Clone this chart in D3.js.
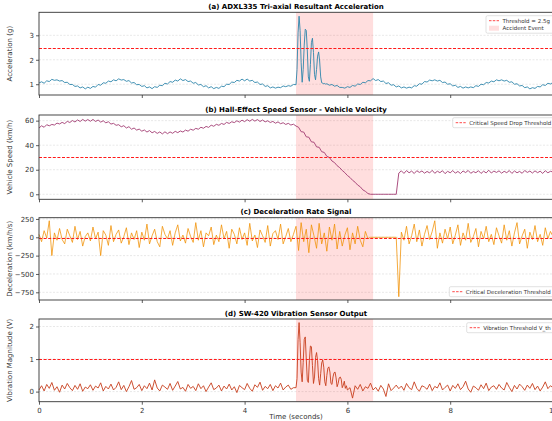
<!DOCTYPE html>
<html>
<head>
<meta charset="utf-8">
<script src="https://cdn.jsdelivr.net/npm/d3@7"></script>
<style>
  body { margin: 0; background: #fff; }
  svg { display: block; font-family: "DejaVu Sans", sans-serif; }
</style>
</head>
<body>
<div id="chart"></div>
<script>
// sample grid: 0 .. 10 s, every 0.05 s (null = see burst arrays)
var accel = [
  1.05, 1.10, 1.04, 1.14, 1.11, 1.20, 1.16, 1.18, 1.13, 1.15, 1.07, 1.08, 0.99, 0.99, 0.91, 0.93, 0.85, 0.89, 0.81, 0.88,
  0.83, 0.91, 0.88, 0.99, 0.96, 1.06, 1.04, 1.13, 1.10, 1.18, 1.14, 1.22, 1.17, 1.19, 1.12, 1.15, 1.05, 1.07, 0.98, 0.99,
  0.91, 0.94, 0.85, 0.89, 0.82, 0.90, 0.87, 0.96, 0.94, 1.04, 1.01, 1.11, 1.08, 1.17, 1.13, 1.22, 1.15, 1.19, 1.11, 1.13,
  1.04, 1.07, 0.97, 0.99, 0.90, 0.94, 0.85, 0.90, 0.82, 0.87, 0.83, 0.92, 0.90, 1.00, 0.99, 1.09, 1.07, 1.16, 1.13, 1.21,
  1.14, 1.21, 1.13, 1.16, 1.07, 1.09, 0.99, 1.01, 0.91, 0.94, 0.85, 0.89, 0.84, 0.88, 0.86, 0.93, 0.90, 0.94, 0.92, 0.99,
  null, null, null, null, null, null, null, null, null, null, null, null, null, 0.96, 0.99, 0.92, 0.95, 0.87, 0.87, 0.84,
  0.90, 0.87, 0.95, 0.92, 1.01, 0.99, 1.08, 1.06, 1.15, 1.14, 1.23, 1.15, 1.19, 1.11, 1.13, 1.03, 1.06, 0.96, 0.98, 0.89,
  0.93, 0.85, 0.89, 0.84, 0.88, 0.85, 0.94, 0.92, 1.02, 1.00, 1.11, 1.09, 1.17, 1.14, 1.18, 1.13, 1.16, 1.07, 1.09, 1.00,
  1.02, 0.93, 0.96, 0.87, 0.91, 0.84, 0.89, 0.85, 0.89, 0.86, 0.94, 0.91, 1.00, 0.98, 1.07, 1.05, 1.13, 1.10, 1.18, 1.14,
  1.18, 1.13, 1.16, 1.08, 1.10, 1.00, 1.02, 0.93, 0.95, 0.86, 0.89, 0.81, 0.86, 0.83, 0.91, 0.89, 0.98, 0.95, 1.04, 1.01, 1.07
]

// impact burst, 5.00 .. 5.60 s every 0.02 s
var accelBurst = [
  0.98, 1.60, 3.10, 3.78, 3.20, 1.90, 1.08, 1.60, 2.60, 3.25,
  3.20, 2.40, 1.30, 1.12, 1.80, 2.70, 2.88, 2.30, 1.40, 1.18,
  1.60, 2.15, 2.32, 1.95, 1.30, 1.06, 1.04, 1.02, 1.03, 1.00, 1.02
]

var speed = [
  54.0, 55.8, 54.6, 56.7, 55.8, 56.9, 56.4, 58.0, 57.3, 58.6, 57.6, 59.4, 58.5, 60.1, 58.9, 60.6, 59.3, 61.0, 59.6, 60.9,
  59.5, 61.0, 59.3, 60.5, 58.8, 59.9, 58.2, 59.1, 57.2, 57.8, 56.2, 56.7, 55.0, 55.9, 54.0, 55.1, 53.0, 54.0, 52.3, 53.1,
  51.4, 52.4, 50.7, 51.9, 50.1, 51.2, 49.6, 50.8, 49.2, 50.9, 49.4, 50.8, 49.7, 51.3, 50.2, 51.6, 50.7, 52.3, 51.4, 53.0,
  52.2, 53.7, 53.0, 54.6, 53.8, 55.3, 54.5, 56.3, 55.4, 57.0, 56.2, 57.7, 56.9, 58.6, 57.7, 59.1, 58.4, 59.9, 58.8, 60.4,
  59.2, 60.8, 59.5, 61.0, 59.6, 60.9, 59.3, 60.5, 59.0, 59.9, 58.5, 59.4, 57.9, 59.0, 57.5, 58.3, 56.9, 57.8, 56.4, 57.1,
  55.6, 54.6, 51.0, 50.7, 46.8, 46.5, 42.7, 42.4, 38.6, 38.3, 34.7, 34.1, 30.9, 30.0, 27.1, 25.8, 23.3, 21.7, 19.4, 17.6,
  15.3, 13.7, 11.4, 9.8, 7.5, 6.1, 3.6, 2.4, 0.6, 0, 0, 0, 0, 0, 0, 0, 0, 0, 0, 0,
  17.3, 19.1, 17.0, 19.3, 17.5, 18.9, 16.9, 19.2, 17.8, 19.0, 17.2, 18.6, 17.4, 19.5, 17.1, 18.8, 17.6, 19.2, 16.8, 18.7,
  17.5, 19.3, 17.2, 18.6, 16.9, 19.0, 17.7, 19.4, 17.1, 18.5, 17.6, 19.2, 17.0, 18.8, 17.4, 19.6, 17.3, 18.9, 17.8, 19.1,
  17.2, 18.7, 17.6, 19.3, 17.0, 19.0, 17.5, 18.6, 17.1, 19.4, 17.8, 18.9, 17.3, 19.1, 17.6, 18.8, 17.0, 19.2, 17.5, 18.7, 18.2
]

var decel = [
  40, -60, 90, -10, 225, -250, 60, -40, 120, -30, -90, 110, 20, -70, 150, -30, 80, -120, 10, 60,
  -50, 140, -20, 70, -250, 90, 30, -110, 160, -60, 40, 100, -80, 10, 130, -100, 60, -30, 90, -140,
  70, -40, 180, -90, 20, 110, -60, -130, 150, 40, -20, 90, -110, 60, 170, -50, 30, -80, 120, 10,
  -70, 200, -40, 90, -130, 60, 20, 140, -100, 30, -60, 170, -20, 80, -150, 110, 40, -90, 130, -30,
  60, -110, 190, -50, 30, -140, 100, 20, -70, 160, -120, 50, 90, -30, 180, -90, 10, 120, -60, 40,
  150, -180, 200, -60, 110, -210, 170, 20, -150, 190, -90, 60, -190, 140, -40, 180, -160, 80, -120, 30,
  130, -170, 60, -90, 150, -40, -130, 80, -20, 0, 0, 0, 0, 0, 0, 0, 0, 0, 0, 0,
  -810, 70, -40, 150, -90, 20, 180, -60, 100, -120, 40, 160, -30, 80, 225, -150, 60, -80, 110, -20,
  140, -90, 30, 170, -110, 60, -40, 190, -70, 10, 120, -130, 80, -20, 150, -60, 40, -100, 130, 20,
  -80, 170, -40, 90, -120, 60, 200, -90, 20, 110, -150, 70, -30, 160, -60, 40, -110, 130, -20, 80, 10
]

var vibration = [
  0.05, 0.18, 0.02, 0.22, 0.10, 0.28, 0.04, 0.15, -0.02, 0.20, 0.08, 0.25, 0.12, 0.03, 0.19, 0.07, 0.24, 0.01, 0.14, 0.09,
  0.21, 0.04, 0.17, 0.11, 0.27, 0.02, 0.16, 0.08, 0.23, 0.05, 0.13, 0.30, 0.06, 0.19, 0.00, 0.15, 0.34, 0.07, 0.12, 0.22,
  0.03, 0.18, 0.09, 0.26, 0.05, 0.36, 0.11, 0.02, 0.20, 0.14, 0.07, 0.25, 0.04, 0.17, 0.31, 0.08, 0.13, 0.01, 0.22, 0.10,
  0.16, 0.03, 0.24, 0.09, 0.18, 0.00, 0.14, 0.27, 0.06, 0.11, 0.20, 0.02, 0.17, 0.08, 0.23, 0.05, 0.15, -0.03, 0.19, 0.12,
  0.06, 0.25, 0.10, 0.01, 0.21, 0.13, 0.29, 0.04, 0.16, 0.09, 0.22, 0.03, 0.18, 0.11, 0.26, 0.05, 0.14, 0.20, 0.07, 0.12,
  null, null, null, null, null, null, null, null, null, null, null, null, null, null, null, null, null, null, null, null,
  null, 0.12, -0.20, 0.18, 0.07, 0.22, 0.02, 0.15, 0.10, 0.26, 0.05, 0.13, 0.01, 0.19, 0.08, -0.15, 0.24, 0.03, 0.11, 0.20,
  0.09, 0.17, 0.04, 0.25, 0.12, 0.06, 0.30, 0.10, 0.01, 0.18, 0.14, 0.07, 0.23, 0.03, 0.16, 0.11, 0.27, 0.05, 0.13, 0.20,
  0.02, 0.19, 0.10, 0.24, 0.06, 0.15, 0.32, 0.08, -0.02, 0.17, 0.12, 0.04, 0.21, 0.09, 0.26, 0.03, 0.14, 0.18, 0.07, 0.22,
  0.11, 0.05, 0.28, 0.13, 0.00, 0.19, 0.08, 0.23, 0.15, 0.04, 0.20, 0.10, 0.25, 0.06, 0.17, 0.02, 0.14, 0.30, 0.09, 0.18, 0.12
]

// ringing after impact, 5.00 .. 6.00 s every 0.02 s
var vibrationBurst = [
  0.12, 0.40, 1.60, 2.12, 1.50, 0.60, 0.30, 0.90, 1.60, 1.68,
  1.00, 0.35, 0.28, 0.95, 1.40, 1.38, 0.80, 0.25, 0.45, 1.05,
  1.20, 0.95, 0.40, 0.20, 0.55, 0.88, 0.97, 0.75, 0.30, 0.18,
  0.50, 0.72, 0.76, 0.60, 0.25, 0.22, 0.45, 0.58, 0.60, 0.42,
  0.15, 0.25, 0.42, 0.45, 0.38, 0.12, 0.20, 0.32, 0.10, 0.18, 0.05
]

var accidentWindow = [5.0, 6.5]
var timeTicks = [0, 2, 4, 6, 8, 10]

// Build [t, v] points from the 0.05 s grid and an optional finer burst
function makePoints(values, burst, burstStart) {
  var pts = []
  values.forEach(function(v, i) {
    if (v !== null) pts.push([i * 0.05, v])
  })
  if (burst) {
    burst.forEach(function(v, i) { pts.push([burstStart + i * 0.02, v]) })
  }
  return pts.sort(function(a, b) { return a[0] - b[0] })
}

var panels = [
  {title: "(a) ADXL335 Tri-axial Resultant Acceleration", ylabel: "Acceleration (g)",
   top: 12.3, bottom: 95, domain: [0.56, 3.94], ticks: [1, 2, 3], color: "#2E86AB",
   points: makePoints(accel, accelBurst, 5.0), threshold: 2.5,
   legend: {x: 486, y: 15.7, w: 80, items: [["line", "Threshold = 2.5g"], ["rect", "Accident Event"]]}},
  {title: "(b) Hall-Effect Speed Sensor - Vehicle Velocity", ylabel: "Vehicle Speed (km/h)",
   top: 115, bottom: 199.3, domain: [-4.1, 64.6], ticks: [0, 20, 40, 60], color: "#A23B72",
   points: makePoints(speed), threshold: 30,
   legend: {x: 452.7, y: 117.7, w: 110, items: [["line", "Critical Speed Drop Threshold"]]}},
  {title: "(c) Deceleration Rate Signal", ylabel: "Deceleration (km/h/s)",
   top: 217.7, bottom: 300, domain: [-855, 267], ticks: [-750, -500, -250, 0, 250], color: "#F18F01",
   points: makePoints(decel), threshold: -15, opacity: 0.85,
   legend: {x: 449.3, y: 286.7, w: 115, items: [["line", "Critical Deceleration Threshold"]]}},
  {title: "(d) SW-420 Vibration Sensor Output", ylabel: "Vibration Magnitude (V)",
   top: 319, bottom: 401.7, domain: [-0.31, 2.23], ticks: [0, 1, 2], color: "#C73E1D",
   points: makePoints(vibration, vibrationBurst, 5.0), threshold: 1.0,
   legend: {x: 466.7, y: 322.7, w: 100, items: [["line", "Vibration Threshold V_th"]]}}
]

var svg = d3.select("#chart").append("svg")
  .attr("width", 552)
  .attr("height", 421)

var x = d3.scaleLinear().domain([0, 10]).range([39, 553])

panels.forEach(function(p, k) {
  var y = d3.scaleLinear().domain(p.domain).range([p.bottom, p.top])
  var g = svg.append("g")

  // grid
  g.selectAll("line.grid").data(p.ticks).enter().append("line")
    .attr("x1", x(0)).attr("x2", x(10))
    .attr("y1", function(d) { return y(d) }).attr("y2", function(d) { return y(d) })
    .attr("stroke", "#d9d9d9").attr("stroke-width", 0.6).attr("stroke-dasharray", "2,1.5")

  // accident shading
  g.append("rect")
    .attr("x", x(accidentWindow[0])).attr("width", x(accidentWindow[1]) - x(accidentWindow[0]))
    .attr("y", p.top).attr("height", p.bottom - p.top)
    .attr("fill", "#ff0000").attr("fill-opacity", 0.13)

  // signal
  var line = d3.line().x(function(d) { return x(d[0]) }).y(function(d) { return y(d[1]) })
  g.append("path").datum(p.points)
    .attr("d", line).attr("fill", "none")
    .attr("stroke", p.color).attr("stroke-width", 0.9)
    .attr("stroke-opacity", p.opacity || 1)
    .attr("stroke-linejoin", "round")

  // threshold, snapped to a pixel row so the red stays crisp
  var ty = Math.round(y(p.threshold)) + 0.5
  g.append("line")
    .attr("x1", x(0)).attr("x2", x(10))
    .attr("y1", ty).attr("y2", ty)
    .attr("stroke", "#ff1a1a").attr("stroke-width", 1.2).attr("stroke-dasharray", "3,1.6")

  // frame
  g.append("rect")
    .attr("x", x(0)).attr("y", p.top)
    .attr("width", x(10) - x(0)).attr("height", p.bottom - p.top)
    .attr("fill", "none").attr("stroke", "#333").attr("stroke-width", 0.9)

  // axes
  var yAxis = g.append("g").attr("transform", "translate(" + x(0) + ",0)")
    .call(d3.axisLeft(y).tickValues(p.ticks).tickSize(3).tickPadding(2)
      .tickFormat(function(d) { return d3.format("d")(d).replace("-", "\u2212") }))
  var xAxis = g.append("g").attr("transform", "translate(0," + p.bottom + ")")
    .call(d3.axisBottom(x).tickValues(timeTicks).tickSize(3).tickPadding(3)
      .tickFormat(k == panels.length - 1 ? d3.format("d") : ""))
  ;[yAxis, xAxis].forEach(function(a) {
    a.select(".domain").remove()
    a.selectAll("line").attr("stroke", "#333").attr("stroke-width", 0.8)
    a.selectAll("text").attr("fill", "#333").style("font-size", "7px").style("font-family", "DejaVu Sans")
  })

  // title
  g.append("text")
    .attr("x", (x(0) + x(10)) / 2).attr("y", p.top - 3.5)
    .attr("text-anchor", "middle")
    .style("font-size", "7px").style("font-weight", "bold")
    .text(p.title)

  // y label
  g.append("text")
    .attr("transform", "translate(12," + ((p.top + p.bottom) / 2) + ") rotate(-90)")
    .attr("text-anchor", "middle")
    .attr("fill", "#333")
    .style("font-size", "7px")
    .text(p.ylabel)

  // legend
  var L = p.legend
  var lg = g.append("g").attr("transform", "translate(" + L.x + "," + L.y + ")")
  lg.append("rect").attr("width", L.w).attr("height", 2.5 + L.items.length * 7.5)
    .attr("rx", 1.5).attr("fill", "#fff").attr("fill-opacity", 0.85)
    .attr("stroke", "#ccc").attr("stroke-width", 0.6)
  L.items.forEach(function(it, i) {
    var cy = 5 + i * 7.5
    if (it[0] == "line") {
      lg.append("line").attr("x1", 3).attr("x2", 13).attr("y1", cy).attr("y2", cy)
        .attr("stroke", "#ff1a1a").attr("stroke-width", 0.8).attr("stroke-dasharray", "2.5,1.3")
    } else {
      lg.append("rect").attr("x", 3).attr("y", cy - 2.5).attr("width", 10).attr("height", 5)
        .attr("fill", "#ff0000").attr("fill-opacity", 0.13)
    }
    lg.append("text").attr("x", 16.5).attr("y", cy + 2)
      .attr("fill", "#333")
      .style("font-size", "5.5px")
      .text(it[1])
  })
})

// x label
svg.append("text")
  .attr("x", (x(0) + x(10)) / 2).attr("y", 419)
  .attr("text-anchor", "middle")
  .attr("fill", "#333")
  .style("font-size", "7px")
  .text("Time (seconds)")
</script>
</body>
</html>
